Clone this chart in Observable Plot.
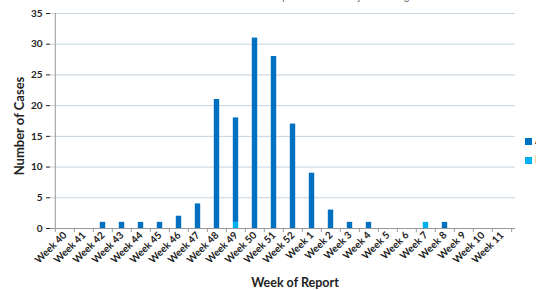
<!DOCTYPE html>
<html>
<head>
<meta charset="utf-8">
<script src="https://cdn.jsdelivr.net/npm/d3@7"></script>
<script src="https://cdn.jsdelivr.net/npm/@observablehq/plot@0.6"></script>
<style>
  html, body { margin: 0; padding: 0; background: #fff; overflow: hidden; }
  #wrap { position: relative; width: 536px; height: 290px; font-family: Lato, "Open Sans", sans-serif; }
  #sub { position: absolute; top: -9px; left: 0; width: 660px; text-align: center; font-size: 9px; color: #555; white-space: nowrap; }
  .leg { position: absolute; left: 525px; font-size: 11px; font-weight: bold; color: #333; white-space: nowrap; }
  .leg span { display: inline-block; width: 7px; height: 7px; margin-right: 3px; vertical-align: -1px; }
</style>
</head>
<body>
<div id="wrap">
  <div id="chart"></div>
  <div id="sub">Data are provisional and subject to change</div>
  <div class="leg" style="top:133px"><span style="background:#0070C0"></span>A</div>
  <div class="leg" style="top:152px"><span style="background:#00B0F0"></span>B</div>
</div>
<script>
const weeks = ["Week 40","Week 41","Week 42","Week 43","Week 44","Week 45","Week 46","Week 47","Week 48","Week 49","Week 50","Week 51","Week 52","Week 1","Week 2","Week 3","Week 4","Week 5","Week 6","Week 7","Week 8","Week 9","Week 10","Week 11"];
const seriesA = [0,0,1,1,1,1,2,4,21,17,31,28,17,9,3,1,1,0,0,0,1,0,0,0];
const seriesB = [0,0,0,0,0,0,0,0,0,1,0,0,0,0,0,0,0,0,0,1,0,0,0,0];
const yTicks = [0,5,10,15,20,25,30,35];

const rows = [];
weeks.forEach((w, i) => rows.push({week: w, series: "B", value: seriesB[i]}));
weeks.forEach((w, i) => rows.push({week: w, series: "A", value: seriesA[i]}));

const W = 536, H = 290, mL = 50, mR = 21;
const step = (W - mL - mR) / weeks.length;

const chart = Plot.plot({
  width: W, height: H,
  marginLeft: mL, marginRight: mR, marginTop: 13, marginBottom: 62,
  style: {fontFamily: "Lato, 'Open Sans', sans-serif", fontSize: "10px", fontWeight: "bold", color: "#222", background: "transparent"},
  x: {domain: weeks, padding: 0, label: null, tickSize: 0, tickRotate: -45, tickPadding: 5},
  y: {type: "linear", domain: [0, 35], ticks: yTicks, label: null, tickSize: 4, tickPadding: 4},
  color: {domain: ["A", "B"], range: ["#0070C0", "#00B0F0"]},
  marks: [
    Plot.gridY(yTicks.filter(d => d > 0), {stroke: "#c5d3de", strokeOpacity: 1, strokeWidth: 1}),
    Plot.ruleX([weeks[0]], {x: d => d, dx: -step / 2, y1: 0, y2: 35, stroke: "#999"}),
    Plot.barY(rows, {x: "week", y: "value", fill: "series", insetLeft: 6.8, insetRight: 6.8}),
    Plot.ruleY([0], {stroke: "#999"}),
    Plot.ruleX(weeks, {x: d => d, dx: -step / 2, y1: 0, y2: 0, insetBottom: -4, stroke: "#999"}),
    Plot.ruleX([weeks[weeks.length - 1]], {x: d => d, dx: step / 2, y1: 0, y2: 0, insetBottom: -4, stroke: "#999"})
  ]
});
document.getElementById("chart").appendChild(chart);

const svg = d3.select(chart);
svg.append("text").attr("x", 295).attr("y", 287).attr("text-anchor", "middle")
  .style("font-size", "12.5px").style("font-weight", "bold").attr("fill", "#222").text("Week of Report");
svg.append("text").attr("transform", "translate(24,126) rotate(-90)").attr("text-anchor", "middle")
  .style("font-size", "13px").style("font-weight", "bold").attr("fill", "#222").text("Number of Cases");
</script>
</body>
</html>
